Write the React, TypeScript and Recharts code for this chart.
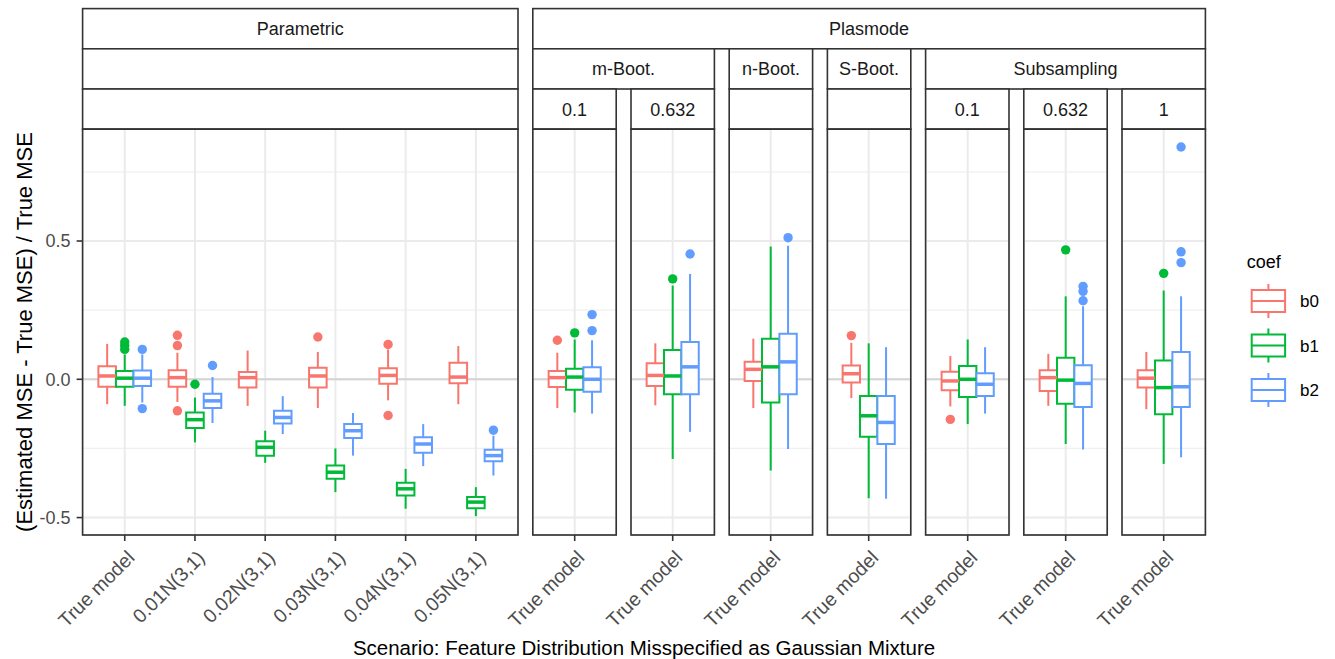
import React from "react";
import {
  ComposedChart,
  XAxis,
  YAxis,
  CartesianGrid,
  Scatter,
  ReferenceArea,
  ReferenceLine,
} from "recharts";

// ---------------- DATA ----------------
const coefNames = ["b0", "b1", "b2"];
const yTicks = [-0.5, 0, 0.5];
const yMinorTicks = [-0.25, 0.25, 0.75];
const yZeroTick = [0];
const Y_DOMAIN: [number, number] = [-0.563, 0.905];

const parametricCategories = [
  "True model",
  "0.01N(3,1)",
  "0.02N(3,1)",
  "0.03N(3,1)",
  "0.04N(3,1)",
  "0.05N(3,1)",
];
const plasmodeCategories = ["True model"];

// five-number summaries: [lower whisker, q1, median, q3, upper whisker]
const parametricB0 = [
  [-0.09, -0.027, 0.012, 0.047, 0.128],
  [-0.082, -0.027, 0.006, 0.033, 0.096],
  [-0.096, -0.03, 0.006, 0.026, 0.104],
  [-0.104, -0.03, 0.012, 0.042, 0.099],
  [-0.076, -0.016, 0.014, 0.04, 0.108],
  [-0.09, -0.014, 0.008, 0.06, 0.12],
];
const parametricB1 = [
  [-0.096, -0.027, 0.004, 0.03, 0.09],
  [-0.228, -0.176, -0.146, -0.12, -0.066],
  [-0.302, -0.276, -0.246, -0.224, -0.186],
  [-0.408, -0.36, -0.336, -0.312, -0.25],
  [-0.468, -0.42, -0.396, -0.374, -0.324],
  [-0.495, -0.466, -0.444, -0.426, -0.39],
];
const parametricB2 = [
  [-0.084, -0.024, 0.004, 0.032, 0.09],
  [-0.158, -0.104, -0.078, -0.052, 0.008],
  [-0.198, -0.16, -0.138, -0.114, -0.061],
  [-0.276, -0.212, -0.186, -0.162, -0.122],
  [-0.314, -0.266, -0.234, -0.21, -0.162],
  [-0.348, -0.296, -0.276, -0.255, -0.204],
];
const parametricB0Outliers = [[], [0.159, 0.122, -0.114], [], [0.153], [0.126, -0.131], []];
const parametricB1Outliers = [[0.135, 0.122, 0.108], [-0.018], [], [], [], []];
const parametricB2Outliers = [[0.108, -0.106], [0.05], [], [], [], [-0.184]];

const mBoot01Stats = [
  [[-0.104, -0.028, 0.006, 0.03, 0.096]],
  [[-0.12, -0.038, 0.008, 0.038, 0.144]],
  [[-0.124, -0.045, 0.0, 0.044, 0.141]],
];
const mBoot01Outliers = [[[0.141]], [[0.168]], [[0.234, 0.176]]];

const mBoot0632Stats = [
  [[-0.094, -0.024, 0.014, 0.058, 0.13]],
  [[-0.288, -0.054, 0.012, 0.106, 0.339]],
  [[-0.19, -0.054, 0.045, 0.135, 0.381]],
];
const mBoot0632Outliers = [[[]], [[0.363]], [[0.453]]];

const nBootStats = [
  [[-0.104, -0.006, 0.036, 0.063, 0.147]],
  [[-0.33, -0.084, 0.045, 0.147, 0.48]],
  [[-0.252, -0.054, 0.063, 0.165, 0.483]],
];
const nBootOutliers = [[[]], [[]], [[0.512]]];

const sBootStats = [
  [[-0.068, -0.012, 0.02, 0.05, 0.132]],
  [[-0.43, -0.208, -0.132, -0.06, 0.13]],
  [[-0.432, -0.234, -0.156, -0.06, 0.116]],
];
const sBootOutliers = [[[0.158]], [[]], [[]]];

const sub01Stats = [
  [[-0.098, -0.04, -0.006, 0.027, 0.084]],
  [[-0.162, -0.064, 0.0, 0.048, 0.144]],
  [[-0.124, -0.06, -0.018, 0.022, 0.116]],
];
const sub01Outliers = [[[-0.145]], [[]], [[]]];

const sub0632Stats = [
  [[-0.096, -0.042, 0.006, 0.033, 0.092]],
  [[-0.234, -0.088, -0.003, 0.078, 0.3]],
  [[-0.254, -0.1, -0.015, 0.051, 0.264]],
];
const sub0632Outliers = [[[]], [[0.468]], [[0.336, 0.318, 0.284]]];

const sub1Stats = [
  [[-0.108, -0.03, 0.004, 0.033, 0.099]],
  [[-0.306, -0.126, -0.03, 0.068, 0.321]],
  [[-0.282, -0.1, -0.027, 0.099, 0.3]],
];
const sub1Outliers = [[[]], [[0.383]], [[0.84, 0.461, 0.422]]];

// strip labels per panel
const panelLevel1 = ["Parametric", "Plasmode", "Plasmode", "Plasmode", "Plasmode", "Plasmode", "Plasmode", "Plasmode"];
const panelLevel2 = ["", "m-Boot.", "m-Boot.", "n-Boot.", "S-Boot.", "Subsampling", "Subsampling", "Subsampling"];
const panelLevel3 = ["", "0.1", "0.632", "", "", "0.1", "0.632", "1"];

const yAxisTitle = "(Estimated MSE - True MSE) / True MSE";
const xAxisTitle = "Scenario: Feature Distribution Misspecified as Gaussian Mixture";
const legendTitle = "coef";

// ---------------- STYLE / LAYOUT ----------------
const FONT = "'Liberation Sans', Arial, Helvetica, sans-serif";
const COLORS = ["#F8766D", "#00BA38", "#619CFF"];
const FRAME = "#333333";
const PANEL_TOP = 129;
const PANEL_H = 406;
const XAXIS_H = 124;
const PARAM_LEFT = 82.6;
const PARAM_W = 435.4;
const SMALL_W = 83.4;
const GAP = 14.8;
const STRIP_TOP = 8.6;
const STRIP_H = 40.2;
const LABEL_MARGIN = 110;
const BOX_HALF = 0.125;
const DODGE = 0.25;

type PanelDef = {
  categories: string[];
  stats: number[][][];
  outliers: number[][][];
};

const panels: PanelDef[] = [
  {
    categories: parametricCategories,
    stats: [parametricB0, parametricB1, parametricB2],
    outliers: [parametricB0Outliers, parametricB1Outliers, parametricB2Outliers],
  },
  { categories: plasmodeCategories, stats: mBoot01Stats, outliers: mBoot01Outliers },
  { categories: plasmodeCategories, stats: mBoot0632Stats, outliers: mBoot0632Outliers },
  { categories: plasmodeCategories, stats: nBootStats, outliers: nBootOutliers },
  { categories: plasmodeCategories, stats: sBootStats, outliers: sBootOutliers },
  { categories: plasmodeCategories, stats: sub01Stats, outliers: sub01Outliers },
  { categories: plasmodeCategories, stats: sub0632Stats, outliers: sub0632Outliers },
  { categories: plasmodeCategories, stats: sub1Stats, outliers: sub1Outliers },
];

const panelGeom = panels.map((_, i) => {
  if (i === 0) return { left: PARAM_LEFT, width: PARAM_W };
  return { left: PARAM_LEFT + PARAM_W + GAP + (i - 1) * (SMALL_W + GAP), width: SMALL_W };
});

function XTick(props: any) {
  const { x, y, payload, labels } = props;
  const label = labels[Math.round(payload.value) - 1];
  const bx = x + 11;
  const by = y + 16;
  return (
    <text
      x={bx}
      y={by}
      textAnchor="end"
      transform={`rotate(-45, ${bx}, ${by})`}
      fontSize={19.5}
      fontFamily={FONT}
      fill="#4D4D4D"
    >
      {label}
    </text>
  );
}

function Panel({ def, left, width, showY }: { def: PanelDef; left: number; width: number; showY: boolean }) {
  const n = def.categories.length;
  const xTicks = def.categories.map((_, i) => i + 1);
  const leftSpace = showY ? left : LABEL_MARGIN;
  const chartLeft = showY ? 0 : left - LABEL_MARGIN;
  const chartW = leftSpace + width + 10;

  const boxes: any[] = [];
  coefNames.forEach((_, k) => {
    def.categories.forEach((__, c) => {
      const s = def.stats[k][c];
      const xc = c + 1 + (k - 1) * DODGE;
      boxes.push({ k, c, xc, mn: s[0], q1: s[1], md: s[2], q3: s[3], mx: s[4] });
    });
  });

  const outlierData = coefNames.map((_, k) => {
    const pts: { x: number; y: number }[] = [];
    def.categories.forEach((__, c) => {
      def.outliers[k][c].forEach((v) => pts.push({ x: c + 1 + (k - 1) * DODGE, y: v }));
    });
    return pts;
  });

  return (
    <div style={{ position: "absolute", left: chartLeft, top: PANEL_TOP }}>
      <ComposedChart
        width={chartW}
        height={PANEL_H + XAXIS_H}
        margin={{ top: 0, right: 10, bottom: 0, left: showY ? 0 : LABEL_MARGIN }}
      >
        <XAxis
          type="number"
          dataKey="x"
          domain={[0.4, n + 0.6]}
          ticks={xTicks}
          interval={0}
          allowDataOverflow
          height={XAXIS_H}
          axisLine={false}
          tickSize={6}
          tickLine={{ stroke: FRAME, strokeWidth: 1.6 }}
          tick={(p: any) => <XTick {...p} labels={def.categories} />}
        />
        <YAxis
          type="number"
          dataKey="y"
          domain={Y_DOMAIN}
          allowDataOverflow
          ticks={yTicks}
          interval={0}
          hide={!showY}
          width={showY ? left : 0}
          axisLine={false}
          tickSize={6}
          tickMargin={6}
          tickLine={{ stroke: FRAME, strokeWidth: 1.6 }}
          tick={{ fill: "#4D4D4D", fontSize: 18, fontFamily: FONT }}
          tickFormatter={(v: number) => v.toFixed(1)}
        />
        <YAxis yAxisId="minor" type="number" domain={Y_DOMAIN} allowDataOverflow ticks={yMinorTicks} interval={0} hide />
        <YAxis yAxisId="zero" type="number" domain={Y_DOMAIN} allowDataOverflow ticks={yZeroTick} interval={0} hide />
        <CartesianGrid yAxisId="minor" vertical={false} stroke="#F0F0F0" strokeWidth={1.2} />
        <CartesianGrid stroke="#EBEBEB" strokeWidth={2} />
        <CartesianGrid yAxisId="zero" vertical={false} stroke="#D4D4D4" strokeWidth={2} />
        {boxes.map((b) => (
          <ReferenceLine
            key={`wu-${b.k}-${b.c}`}
            segment={[
              { x: b.xc, y: b.q3 },
              { x: b.xc, y: b.mx },
            ]}
            stroke={COLORS[b.k]}
            strokeWidth={2}
          />
        ))}
        {boxes.map((b) => (
          <ReferenceLine
            key={`wl-${b.k}-${b.c}`}
            segment={[
              { x: b.xc, y: b.mn },
              { x: b.xc, y: b.q1 },
            ]}
            stroke={COLORS[b.k]}
            strokeWidth={2}
          />
        ))}
        {boxes.map((b) => (
          <ReferenceArea
            key={`bx-${b.k}-${b.c}`}
            x1={b.xc - BOX_HALF}
            x2={b.xc + BOX_HALF}
            y1={b.q1}
            y2={b.q3}
            fill="#FFFFFF"
            fillOpacity={1}
            stroke={COLORS[b.k]}
            strokeWidth={2}
          />
        ))}
        {boxes.map((b) => (
          <ReferenceLine
            key={`md-${b.k}-${b.c}`}
            segment={[
              { x: b.xc - BOX_HALF, y: b.md },
              { x: b.xc + BOX_HALF, y: b.md },
            ]}
            stroke={COLORS[b.k]}
            strokeWidth={3.5}
          />
        ))}
        {outlierData.map((pts, k) => (
          <Scatter
            key={`out-${k}`}
            data={pts}
            dataKey="y"
            fill={COLORS[k]}
            isAnimationActive={false}
            shape={(p: any) => <circle cx={p.cx} cy={p.cy} r={4.7} fill={COLORS[k]} />}
          />
        ))}
      </ComposedChart>
    </div>
  );
}

function spans(levels: string[][], depth: number) {
  // merge consecutive panels sharing the same label path up to depth
  const out: { start: number; end: number; label: string }[] = [];
  panels.forEach((_, i) => {
    const key = levels.slice(0, depth + 1).map((l) => l[i]).join("|");
    const last = out[out.length - 1];
    const lastKey =
      last !== undefined ? levels.slice(0, depth + 1).map((l) => l[last.start]).join("|") : null;
    if (last && lastKey === key && depth < 2) {
      last.end = i;
    } else {
      out.push({ start: i, end: i, label: levels[depth][i] });
    }
  });
  return out;
}

function Overlay() {
  const levels = [panelLevel1, panelLevel2, panelLevel3];
  const strips: any[] = [];
  levels.forEach((_, d) => {
    spans(levels, d).forEach((s, j) => {
      const x0 = panelGeom[s.start].left;
      const x1 = panelGeom[s.end].left + panelGeom[s.end].width;
      const y0 = STRIP_TOP + d * STRIP_H;
      strips.push(
        <g key={`s-${d}-${j}`}>
          <rect x={x0} y={y0} width={x1 - x0} height={STRIP_H} fill="#FFFFFF" stroke={FRAME} strokeWidth={1.6} />
          <text
            x={(x0 + x1) / 2}
            y={y0 + STRIP_H / 2}
            dy="0.36em"
            textAnchor="middle"
            fontSize={18}
            fontFamily={FONT}
            fill="#1A1A1A"
          >
            {s.label}
          </text>
        </g>
      );
    });
  });

  const plotCenterX = (PARAM_LEFT + panelGeom[panelGeom.length - 1].left + SMALL_W) / 2;
  const legendX = 1251.7;
  const legendY0 = 301;
  const legendStep = 44.5;
  const yTitleX = 32;
  const yTitleY = PANEL_TOP + PANEL_H / 2;

  return (
    <svg
      width={1335}
      height={659}
      style={{ position: "absolute", left: 0, top: 0, pointerEvents: "none" }}
    >
      {strips}
      {panelGeom.map((g, i) => (
        <rect
          key={`f-${i}`}
          x={g.left}
          y={PANEL_TOP}
          width={g.width}
          height={PANEL_H}
          fill="none"
          stroke={FRAME}
          strokeWidth={1.6}
        />
      ))}
      <text
        x={yTitleX}
        y={yTitleY}
        transform={`rotate(-90, ${yTitleX}, ${yTitleY})`}
        textAnchor="middle"
        fontSize={22}
        fontFamily={FONT}
        fill="#000000"
      >
        {yAxisTitle}
      </text>
      <text x={plotCenterX} y={655} textAnchor="middle" fontSize={20.5} fontFamily={FONT} fill="#000000">
        {xAxisTitle}
      </text>
      <text x={1246.7} y={268} fontSize={18} fontFamily={FONT} fill="#000000">
        {legendTitle}
      </text>
      {coefNames.map((name, k) => {
        const cy = legendY0 + k * legendStep;
        const cx = legendX + 16.7;
        return (
          <g key={`lg-${k}`}>
            <line x1={cx} x2={cx} y1={cy - 17} y2={cy + 17} stroke={COLORS[k]} strokeWidth={2} />
            <rect x={legendX} y={cy - 11} width={33.4} height={22} fill="#FFFFFF" stroke={COLORS[k]} strokeWidth={2} />
            <line x1={legendX} x2={legendX + 33.4} y1={cy} y2={cy} stroke={COLORS[k]} strokeWidth={2} />
            <text x={1300} y={cy} dy="0.36em" fontSize={17} fontFamily={FONT} fill="#000000">
              {name}
            </text>
          </g>
        );
      })}
    </svg>
  );
}

export default function App() {
  return (
    <div
      style={{
        position: "absolute",
        left: 0,
        top: 0,
        width: 1335,
        height: 659,
        background: "#FFFFFF",
        overflow: "hidden",
        fontFamily: FONT,
      }}
    >
      {panels.map((def, i) => (
        <Panel key={i} def={def} left={panelGeom[i].left} width={panelGeom[i].width} showY={i === 0} />
      ))}
      <Overlay />
    </div>
  );
}
